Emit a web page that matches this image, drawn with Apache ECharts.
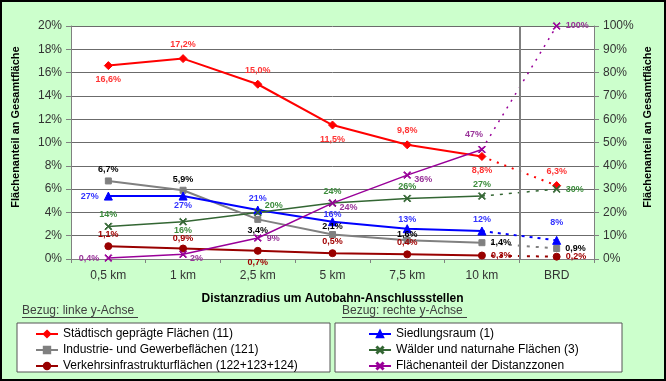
<!DOCTYPE html>
<html>
<head>
<meta charset="utf-8">
<script src="https://cdn.jsdelivr.net/npm/echarts@6/dist/echarts.min.js"></script>
<style>html,body{margin:0;padding:0;background:#fff}#c{width:666px;height:381px}</style>
</head>
<body>
<div id="c"></div>
<script>
// ---- data ----
const categories = ['0,5 km', '1 km', '2,5 km', '5 km', '7,5 km', '10 km', 'BRD'];
const staedtisch = [16.6, 17.2, 15.0, 11.5, 9.8, 8.8, 6.3];   // left axis, %
const industrie  = [6.7, 5.9, 3.4, 2.1, 1.6, 1.4, 0.9];        // left axis, %
const verkehr    = [1.1, 0.9, 0.7, 0.5, 0.4, 0.3, 0.2];        // left axis, %
const siedlung   = [27, 27, 21, 16, 13, 12, 8];                // right axis, %
const waelder    = [14, 16, 20, 24, 26, 27, 30];               // right axis, %
const distanz    = [0.4, 2, 9, 24, 36, 47, 100];               // right axis, %
const leftAxis  = {min: 0, max: 20, interval: 2};
const rightAxis = {min: 0, max: 100, interval: 10};
const separatorAt = 6; // boundary before "BRD" (in category-boundary units)
const names = ['Städtisch geprägte Flächen (11)', 'Industrie- und Gewerbeflächen (121)',
  'Verkehrsinfrastrukturflächen (122+123+124)', 'Siedlungsraum (1)',
  'Wälder und naturnahe Flächen (3)', 'Flächenanteil der Distanzzonen'];

// ---- layout / style ----
const FONT = 'Liberation Sans, Arial, sans-serif';
const posMap = {
  top: {position: 'top', distance: 5}, bottom: {position: 'bottom', distance: 5},
  t3: {position: 'top', distance: 3}, b3: {position: 'bottom', distance: 3},
  t2: {position: 'top', distance: 2}, b2: {position: 'bottom', distance: 2},
  t1: {position: 'top', distance: 1}, tm2: {position: 'top', distance: -2}, tm3: {position: 'top', distance: -3},
  left: {position: 'left'}, right: {position: 'right'},
  tr: {position: 'right', offset: [-2, -7]}, br: {position: 'right', offset: [-2, 4]},
  tl: {position: 'top', offset: [-8, -1]}, top0: {position: 'top', distance: 0}, bot0: {position: 'bottom', distance: 0},
  top8: {position: 'top', distance: 9}
};
function fmt(v, left) {
  if (left) return v.toFixed(1).replace('.', ',') + '%';
  return (Number.isInteger(v) ? String(v) : v.toFixed(1).replace('.', ',')) + '%';
}
function mk(name, values, yIdx, color, symbol, size, labelColor, positions, width, dash) {
  const left = yIdx === 0;
  const lab = (i) => Object.assign({show: true, color: labelColor, fontSize: 9, fontWeight: 'bold', fontFamily: FONT,
    formatter: (p) => fmt(p.value, left)}, posMap[positions[i]]);
  const solid = values.map((v, i) => i < 6 ? {value: v, label: lab(i)} : '-');
  const dashed = values.map((v, i) => i === 5 ? {value: v, symbol: 'none', label: {show: false}} :
    (i === 6 ? {value: v, label: lab(i)} : '-'));
  const common = {type: 'line', yAxisIndex: yIdx, symbol: symbol, symbolSize: size, z: 3,
    itemStyle: {color: color, borderColor: color, borderWidth: 1}, animation: false};
  return [
    Object.assign({}, common, {name: name, data: solid, lineStyle: {color: color, width: width}}),
    Object.assign({}, common, {name: name + ' ', data: dashed, lineStyle: {color: color, width: width, type: dash}})
  ];
}
const X = 'path://M0,1L1,0L5,4L9,0L10,1L6,5L10,9L9,10L5,6L1,10L0,9L4,5Z';
const series = [].concat(
  [{type: 'line', name: 'sep', xAxisIndex: 1, yAxisIndex: 0, data: [], z: 2,
    markLine: {silent: true, symbol: 'none', label: {show: false}, animation: false,
      lineStyle: {color: '#808080', width: 2, type: 'solid'}, data: [{xAxis: separatorAt}]}}],
  mk(names[0], staedtisch, 0, '#FF0000', 'diamond', 8, '#FF3333', ['bottom', 'top', 'top', 'bottom', 'top', 'bottom', 'top'], 2, [2, 6]),
  mk(names[1], industrie, 0, '#808080', 'rect', 6, '#000000', ['t3', 't3', 'b3', 'top0', 'tm2', 'right', 'right'], 2, [3, 6]),
  mk(names[2], verkehr, 0, '#990000', 'circle', 7, '#A00000', ['t3', 't1', 'b3', 't3', 't3', 'right', 'right'], 2, [3, 6]),
  mk(names[3], siedlung, 1, '#0000FF', 'triangle', 8, '#3333FF', ['left', 'bot0', 't3', 'tm2', 'top0', 't3', 'top8'], 2, [3, 5]),
  mk(names[4], waelder, 1, '#336633', X, 7, '#3C8C3C', ['t3', 'bot0', 'tr', 't3', 't3', 't3', 'right'], 1.5, [3, 6]),
  mk(names[5], distanz, 1, '#990099', X, 7, '#993399', ['left', 'br', 'right', 'br', 'br', 'tl', 'right'], 1.5, [2, 6])
);

const chart = echarts.init(document.getElementById('c'), null, {renderer: 'canvas'});
const axisGray = '#808080';
chart.setOption({
  animation: false,
  backgroundColor: '#CCFFCC',
  textStyle: {fontFamily: FONT},
  grid: {left: 71, right: 72, top: 26, bottom: 122, show: true, backgroundColor: '#FFFFFF', borderWidth: 0},
  xAxis: [{
    type: 'category', data: categories, boundaryGap: true,
    name: 'Distanzradius um Autobahn-Anschlussstellen', nameLocation: 'middle', nameGap: 34,
    nameTextStyle: {fontSize: 12, fontWeight: 'bold', color: '#000', fontFamily: FONT},
    axisLine: {lineStyle: {color: axisGray, width: 1}},
    axisTick: {show: true, length: 4, lineStyle: {color: axisGray}},
    axisLabel: {color: '#333', fontSize: 12, margin: 11, fontFamily: FONT},
    splitLine: {show: false}
  }, {
    type: 'value', min: 0, max: categories.length, show: false, position: 'bottom'
  }],
  yAxis: [
    {type: 'value', min: leftAxis.min, max: leftAxis.max, interval: leftAxis.interval, position: 'left',
     axisLine: {show: true, lineStyle: {color: axisGray}},
     axisTick: {show: true, length: 5, lineStyle: {color: axisGray}},
     axisLabel: {formatter: '{value}%', color: '#333', fontSize: 12, margin: 9, fontFamily: FONT},
     splitLine: {show: true, lineStyle: {color: '#6b6b6b', width: 1}}},
    {type: 'value', min: rightAxis.min, max: rightAxis.max, interval: rightAxis.interval, position: 'right',
     axisLine: {show: true, lineStyle: {color: axisGray}},
     axisTick: {show: true, length: 5, lineStyle: {color: axisGray}},
     axisLabel: {formatter: '{value}%', color: '#333', fontSize: 12, margin: 9, fontFamily: FONT},
     splitLine: {show: false}}
  ],
  legend: [
    {data: names.slice(0, 3), orient: 'vertical', left: 35, top: 327, itemWidth: 22, itemHeight: 8, itemGap: 2,
     textStyle: {fontSize: 12, color: '#000', fontFamily: FONT, lineHeight: 14}, padding: 0, selectedMode: false},
    {data: names.slice(3), orient: 'vertical', left: 368, top: 327, itemWidth: 22, itemHeight: 8, itemGap: 2,
     textStyle: {fontSize: 12, color: '#000', fontFamily: FONT, lineHeight: 14}, padding: 0, selectedMode: false}
  ],
  graphic: [
    {type: 'rect', shape: {x: 1, y: 1, width: 664, height: 379}, style: {fill: 'none', stroke: '#000', lineWidth: 2}, z: 100},
    {type: 'rect', shape: {x: 17, y: 323, width: 313, height: 49}, style: {fill: '#fff', stroke: '#555', lineWidth: 1}, z: -1},
    {type: 'rect', shape: {x: 335, y: 323, width: 287, height: 49}, style: {fill: '#fff', stroke: '#555', lineWidth: 1}, z: -1},
    {type: 'text', left: 22, top: 305, style: {text: 'Bezug: linke y-Achse', fontSize: 12, fill: '#404040', fontFamily: FONT}},
    {type: 'line', shape: {x1: 22, y1: 317.5, x2: 138, y2: 317.5}, style: {stroke: '#404040', lineWidth: 1}},
    {type: 'text', left: 342, top: 305, style: {text: 'Bezug: rechte y-Achse', fontSize: 12, fill: '#404040', fontFamily: FONT}},
    {type: 'line', shape: {x1: 342, y1: 317.5, x2: 467, y2: 317.5}, style: {stroke: '#404040', lineWidth: 1}},
    {type: 'text', x: 16, y: 127, rotation: Math.PI / 2,
     style: {text: 'Flächenanteil an Gesamtfläche', fontSize: 11, fontWeight: 'bold', fill: '#000', fontFamily: FONT, align: 'center', verticalAlign: 'middle'}},
    {type: 'text', x: 648, y: 127, rotation: Math.PI / 2,
     style: {text: 'Flächenanteil an Gesamtfläche', fontSize: 11, fontWeight: 'bold', fill: '#000', fontFamily: FONT, align: 'center', verticalAlign: 'middle'}}
  ],
  series: series
});
</script>
</body>
</html>
